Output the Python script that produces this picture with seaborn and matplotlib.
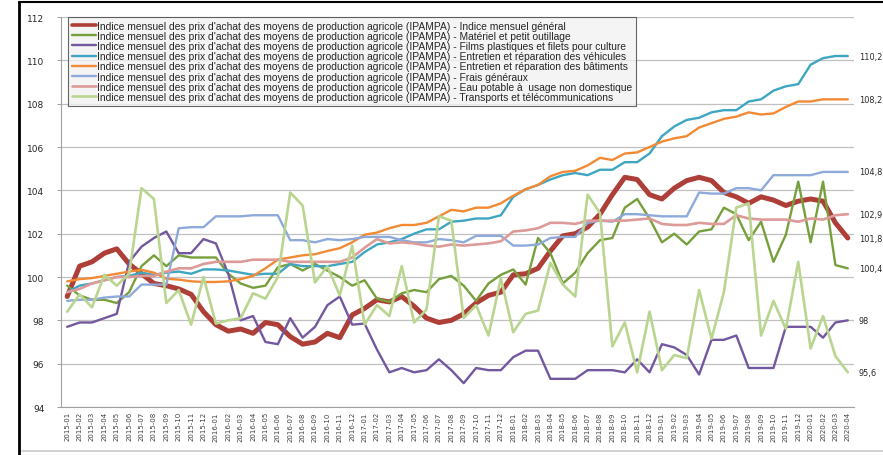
import pandas as pd
import matplotlib.pyplot as plt
import seaborn as sns
from matplotlib.lines import Line2D

# mois de l'axe x
mois = list(pd.period_range("2015-01", "2020-04", freq="M").strftime("%Y-%m"))

prefixe = "Indice mensuel des prix d'achat des moyens de production agricole (IPAMPA) - "
noms = ["Indice mensuel général",
        "Matériel et petit outillage",
        "Films plastiques et filets pour culture",
        "Entretien et réparation des véhicules",
        "Entretien et réparation des bâtiments",
        "Frais généraux",
        "Eau potable à  usage non domestique",
        "Transports et télécommunications"]

general = [99.1, 100.5, 100.7, 101.1, 101.3, 100.6, 100.15, 99.7, 99.6, 99.45, 99.2, 98.4,
           97.8, 97.5, 97.6, 97.4, 97.9, 97.8, 97.25, 96.9, 97.0, 97.4, 97.2, 98.25,
           98.55, 98.95, 98.85, 99.1, 98.65, 98.1, 97.9, 98.0, 98.3, 98.8, 99.15, 99.3,
           100.1, 100.15, 100.4, 101.2, 101.9, 102.0, 102.3, 102.9, 103.8, 104.6, 104.5, 103.8,
           103.6, 104.1, 104.45, 104.6, 104.45, 103.9, 103.7, 103.4, 103.7, 103.55, 103.3, 103.5,
           103.6, 103.5, 102.5, 101.8]
materiel = [99.6, 99.15, 98.95, 98.95, 98.8, 99.3, 100.5, 101.0, 100.5, 101.0, 100.9, 100.9,
            100.9, 100.15, 99.7, 99.5, 99.6, 100.45, 100.6, 100.3, 100.6, 100.3, 100.0, 99.6,
            99.85, 99.0, 98.85, 99.25, 99.4, 99.3, 99.9, 100.05, 99.6, 98.9, 99.7, 100.1,
            100.35, 99.65, 101.8, 101.1, 99.7, 100.2, 101.1, 101.7, 101.8, 103.2, 103.6, 102.7,
            101.6, 102.0, 101.5, 102.1, 102.2, 103.2, 102.9, 101.7, 102.55, 100.7, 101.95, 104.4,
            101.6, 104.4, 100.55, 100.4]
films = [97.7, 97.9, 97.9, 98.1, 98.3, 100.7, 101.4, 101.8, 102.1, 101.1, 101.1, 101.75,
         101.55, 100.15, 98.0, 98.2, 97.0, 96.9, 98.1, 97.2, 97.7, 98.7, 99.1, 97.8,
         97.85, 96.65, 95.6, 95.8, 95.6, 95.7, 96.2, 95.7, 95.1, 95.8, 95.7, 95.7,
         96.3, 96.6, 96.6, 95.3, 95.3, 95.3, 95.7, 95.7, 95.7, 95.6, 96.2, 95.6,
         96.9, 96.75, 96.4, 95.5, 97.1, 97.1, 97.3, 95.8, 95.8, 95.8, 97.7, 97.7,
         97.7, 97.2, 97.9, 98.0]
vehicules = [99.3, 99.6, 99.7, 99.85, 100.0, 100.05, 100.2, 100.1, 100.2, 100.25, 100.15, 100.35,
             100.35, 100.3, 100.2, 100.1, 100.15, 100.15, 100.6, 100.5, 100.5, 100.5, 100.6, 100.7,
             101.15, 101.5, 101.6, 101.75, 102.0, 102.2, 102.2, 102.55, 102.6, 102.7, 102.7, 102.85,
             103.7, 104.05, 104.25, 104.5, 104.7, 104.8, 104.7, 104.95, 104.95, 105.3, 105.3, 105.7,
             106.5, 106.95, 107.25, 107.35, 107.6, 107.7, 107.7, 108.1, 108.2, 108.6, 108.8, 108.9,
             109.8, 110.1, 110.2, 110.2]
batiments = [99.8, 99.9, 99.95, 100.05, 100.15, 100.25, 100.33, 100.2, 99.92, 99.88, 99.8, 99.77,
             99.77, 99.8, 99.9, 100.05, 100.4, 100.8, 100.9, 101.0, 101.05, 101.2, 101.33, 101.6,
             101.95, 102.05, 102.25, 102.4, 102.4, 102.5, 102.8, 103.1, 103.03, 103.2, 103.2, 103.4,
             103.75, 104.05, 104.25, 104.65, 104.85, 104.9, 105.15, 105.5, 105.4, 105.7, 105.75, 106.0,
             106.25, 106.4, 106.5, 106.9, 107.1, 107.3, 107.4, 107.6, 107.5, 107.55, 107.85, 108.1,
             108.1, 108.2, 108.2, 108.2]
frais = [98.9, 98.95, 98.95, 99.05, 99.1, 99.1, 99.65, 99.65, 99.65, 102.25, 102.3, 102.3,
         102.8, 102.8, 102.8, 102.85, 102.85, 102.85, 101.7, 101.7, 101.6, 101.75, 101.7, 101.75,
         101.85, 101.85, 101.85, 101.7, 101.6, 101.6, 101.75, 101.7, 101.6, 101.9, 101.9, 101.9,
         101.45, 101.45, 101.5, 101.8, 101.85, 101.85, 102.5, 102.6, 102.55, 102.9, 102.9, 102.85,
         102.8, 102.8, 102.8, 103.9, 103.85, 103.85, 104.1, 104.1, 104.0, 104.7, 104.7, 104.7,
         104.7, 104.85, 104.85, 104.85]
eau = [99.3, 99.45, 99.7, 99.85, 100.0, 100.0, 100.05, 100.05, 100.25, 100.4, 100.4, 100.6,
       100.7, 100.7, 100.7, 100.8, 100.8, 100.8, 100.7, 100.7, 100.7, 100.7, 100.7, 100.9,
       101.35, 101.75, 101.55, 101.6, 101.55, 101.45, 101.4, 101.5, 101.45, 101.5, 101.55, 101.65,
       102.1, 102.15, 102.25, 102.5, 102.5, 102.45, 102.6, 102.6, 102.6, 102.6, 102.65, 102.7,
       102.45, 102.4, 102.4, 102.5, 102.45, 102.45, 102.85, 102.7, 102.65, 102.65, 102.65, 102.55,
       102.7, 102.65, 102.85, 102.9]
transports = [98.4, 99.2, 98.6, 100.1, 99.6, 100.15, 104.1, 103.6, 98.8, 99.4, 97.8, 100.0,
              97.85, 98.0, 98.1, 99.25, 99.0, 100.0, 103.9, 103.3, 99.75, 100.5, 99.15, 101.45,
              97.8, 98.7, 98.2, 100.5, 97.9, 98.5, 102.8, 102.6, 98.1, 98.7, 97.3, 99.95,
              97.45, 98.3, 98.45, 100.65, 99.65, 99.1, 103.8, 102.95, 96.8, 97.9, 95.6, 98.4,
              95.7, 96.4, 96.25, 99.4, 97.15, 99.3, 103.2, 103.4, 97.3, 98.9, 97.6, 100.7,
              96.7, 98.2, 96.35, 95.6]

series = [general, materiel, films, vehicules, batiments, frais, eau, transports]
couleurs = ["#AE3E38", "#77A03C", "#7358A0", "#3FA6C2", "#F28A34", "#8EAADB", "#DC9A98", "#B9D58F"]
epaisseurs = [3.6, 1.7, 1.7, 1.7, 1.7, 1.7, 1.9, 1.9]

# étiquettes affichées à droite (dernière valeur)
etiquettes = ["101,8", "100,4", "98", "110,2", "108,2", "104,8", "102,9", "95,6"]

sns.set_style("white")
plt.rcParams['font.family'] = ['DejaVu Sans']

fig = plt.figure(figsize=(8.83, 4.56), dpi=100)
ax = fig.add_axes([61/883, 1 - 408/456, 793/883, 390/456])

pos = list(range(len(mois)))
for vals, coul, ep, nom in zip(series, couleurs, epaisseurs, noms):
    sns.lineplot(x=pos, y=vals, color=coul, linewidth=ep, ax=ax, label=prefixe + nom)

for vals, txt in zip(series, etiquettes):
    ax.text(len(mois) - 0.1, vals[-1], txt, fontsize=5.9, va="center", ha="left",
            color="#262626", clip_on=False)

ax.set_xlim(-0.5, len(mois) - 0.5)
ax.set_ylim(94, 112)
ax.set_yticks(range(94, 113, 2))
ax.set_xticks(pos)
ax.set_xticklabels(mois, rotation=90, fontsize=5, color="#404040")
ax.set_xticks([p - 0.5 for p in pos] + [len(mois) - 0.5], minor=True)
ax.tick_params(axis="x", which="major", length=0, pad=3)
ax.tick_params(axis="x", which="minor", length=3, color="#A0A0A0", width=0.7)
ax.tick_params(axis="y", length=3, color="#A0A0A0", width=0.7, labelsize=6.5,
               labelcolor="#262626", pad=9, left=True)
ax.yaxis.grid(True, color="#C0C0C0", linewidth=0.9)
ax.set_axisbelow(True)
for s in ["top", "right"]:
    ax.spines[s].set_visible(False)
for s in ["left", "bottom"]:
    ax.spines[s].set_color("#A0A0A0")
    ax.spines[s].set_linewidth(0.8)
ax.set_xlabel("")
ax.set_ylabel("")

handles = [Line2D([], [], color=c, linewidth=min(e, 2.6)) for c, e in zip(couleurs, epaisseurs)]
leg = ax.legend(handles, [prefixe + n for n in noms], loc="upper left",
                bbox_to_anchor=(0.009, 1.0), frameon=True, fancybox=False,
                labelspacing=0.02, handlelength=2.4, handletextpad=0.1, borderpad=0.35,
                borderaxespad=0, prop={"family": "Liberation Sans", "size": 7.4})
leg.get_frame().set_facecolor("#F2F2F2")
leg.get_frame().set_edgecolor("#404040")
leg.get_frame().set_linewidth(0.8)

# cadre extérieur
fig.add_artist(Line2D([19/883, 19/883], [0, 1 - 3/456], color="black", linewidth=2))
fig.add_artist(Line2D([19/883, 1], [1 - 3/456, 1 - 3/456], color="black", linewidth=1.5))
fig.add_artist(Line2D([22/883, 1], [4/456, 4/456], color="#C8C8C8", linewidth=1.2))

fig.savefig("out.png", dpi=100)
